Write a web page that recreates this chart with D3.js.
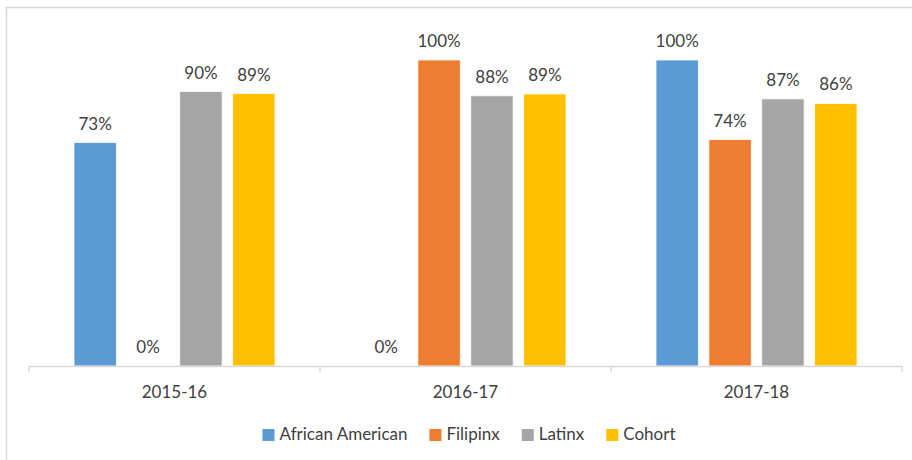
<!DOCTYPE html>
<html>
<head>
<meta charset="utf-8">
<script src="https://cdn.jsdelivr.net/npm/d3@7"></script>
<style>
  html, body { margin: 0; padding: 0; background: #fff; }
  svg { display: block; font-family: Lato, "Open Sans", sans-serif; }
</style>
</head>
<body>
<div id="chart"></div>
<script>
(function (d3) {
    'use strict';

    // categories on the x axis
    var years = ['2015-16', '2016-17', '2017-18'];

    // series names and their colours
    var groups = ['African American', 'Filipinx', 'Latinx', 'Cohort'];
    var colors = ['#5B9BD5', '#ED7D31', '#A5A5A5', '#FFC000'];

    // values per series, one per year
    var africanAmerican = [0.73, 0, 1.00];
    var filipinx = [0, 1.00, 0.74];
    var latinx = [0.897, 0.883, 0.873];
    var cohort = [0.89, 0.889, 0.858];

    var values = [africanAmerican, filipinx, latinx, cohort];

    var width = 912,
        height = 460,
        textColor = '#404040',
        lineColor = '#D9D9D9';

    var svg = d3.select('#chart')
        .append('svg')
        .attr('width', width)
        .attr('height', height);

    // chart frame (only left and top edges are inside the picture)
    svg.append('rect')
        .attr('x', 6.5)
        .attr('y', 7.5)
        .attr('width', 1000)
        .attr('height', 1000)
        .attr('fill', 'none')
        .attr('stroke', lineColor)
        .attr('stroke-width', 1.5);

    var x0 = d3.scaleBand()
        .domain(years)
        .range([29, 902]);

    var x1 = d3.scaleBand()
        .domain(groups)
        .range([45, x0.bandwidth() - 45])
        .paddingInner(0.2);

    var y = d3.scaleLinear()
        .domain([0, 1])
        .range([366, 60]);

    var rows = [];
    years.forEach(function (yr, i) {
        groups.forEach(function (g, j) {
            rows.push({ year: yr, group: g, color: colors[j], value: values[j][i] });
        });
    });

    var fmt = d3.format('.0%');

    // bars
    svg.append('g')
        .selectAll('rect')
        .data(rows.filter(function (d) { return d.value > 0; }))
        .enter()
        .append('rect')
        .attr('x', function (d) { return x0(d.year) + x1(d.group); })
        .attr('y', function (d) { return y(d.value); })
        .attr('width', x1.bandwidth())
        .attr('height', function (d) { return y(0) - y(d.value); })
        .attr('fill', function (d) { return d.color; })
        .attr('stroke', '#fff')
        .attr('stroke-width', 0.75);

    // value labels
    svg.append('g')
        .selectAll('text')
        .data(rows)
        .enter()
        .append('text')
        .attr('x', function (d) { return x0(d.year) + x1(d.group) + x1.bandwidth() / 2; })
        .attr('y', function (d) { return y(d.value) - 13; })
        .attr('text-anchor', 'middle')
        .attr('font-size', 17)
        .attr('fill', textColor)
        .text(function (d) { return fmt(d.value); });

    // x axis: baseline plus ticks between categories
    var axis = svg.append('g');
    axis.append('line')
        .attr('x1', x0.range()[0])
        .attr('x2', x0.range()[1])
        .attr('y1', y(0) + 0.5)
        .attr('y2', y(0) + 0.5)
        .attr('stroke', lineColor)
        .attr('stroke-width', 1.5);

    var tickPos = years.map(function (yr) { return x0(yr); }).concat([x0.range()[1]]);
    axis.selectAll('line.tick')
        .data(tickPos)
        .enter()
        .append('line')
        .attr('class', 'tick')
        .attr('x1', function (d) { return d; })
        .attr('x2', function (d) { return d; })
        .attr('y1', y(0))
        .attr('y2', y(0) + 6)
        .attr('stroke', lineColor)
        .attr('stroke-width', 1.5);

    axis.selectAll('text')
        .data(years)
        .enter()
        .append('text')
        .attr('x', function (d) { return x0(d) + x0.bandwidth() / 2; })
        .attr('y', 398)
        .attr('text-anchor', 'middle')
        .attr('font-size', 17)
        .attr('fill', textColor)
        .text(function (d) { return d; });

    // legend, laid out from measured text widths and centred
    var legend = svg.append('g');
    var items = legend.selectAll('g')
        .data(groups)
        .enter()
        .append('g');

    items.append('rect')
        .attr('width', 12)
        .attr('height', 12)
        .attr('y', -11)
        .attr('fill', function (d, i) { return colors[i]; });

    items.append('text')
        .attr('x', 17)
        .attr('font-size', 17)
        .attr('fill', textColor)
        .text(function (d) { return d; });

    var cursor = 0;
    items.each(function () {
        var w = this.querySelector('text').getComputedTextLength();
        d3.select(this).attr('transform', 'translate(' + cursor + ',0)');
        cursor += 17 + w + 22;
    });
    cursor -= 22;
    legend.attr('transform', 'translate(' + (469 - cursor / 2) + ',440)');

})(d3);
</script>
</body>
</html>
